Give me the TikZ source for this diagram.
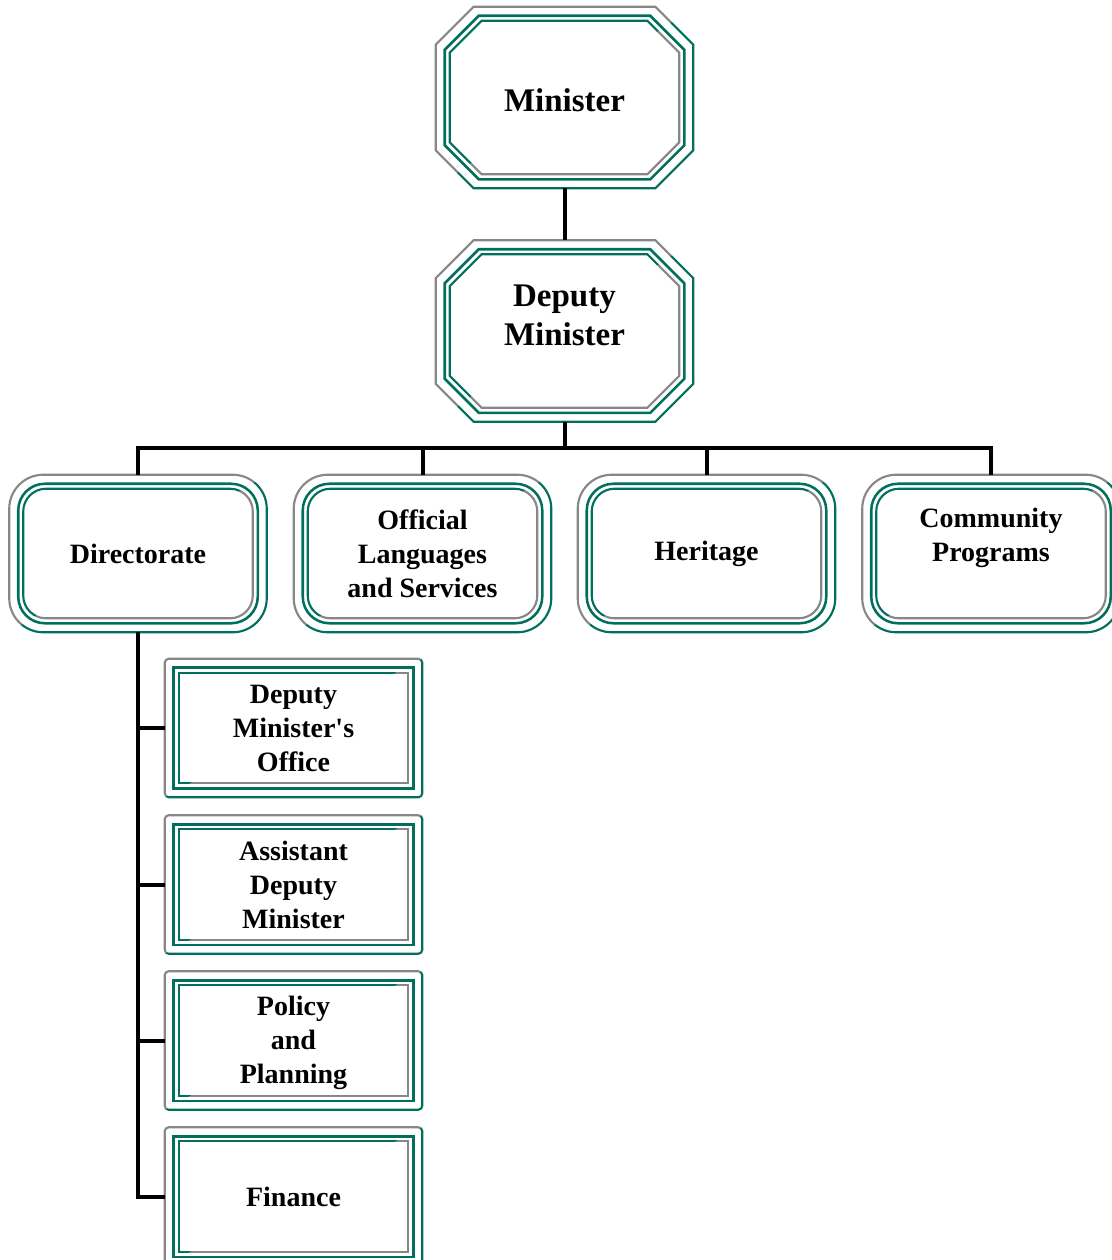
\documentclass[tikz,border=0pt]{standalone}
\usepackage{fontspec}
\setmainfont{Liberation Serif}
\usetikzlibrary{calc}
\definecolor{tealc}{RGB}{0,112,92}
\definecolor{grayc}{RGB}{135,135,135}
\tikzset{
  box/.style={inner sep=0pt, minimum width=257*0.75pt, align=center,
    font=\bfseries\fontsize{21}{25.5}\selectfont},
  bigbox/.style={box, minimum height=181*0.75pt},
  midbox/.style={box, minimum height=157*0.75pt},
  smallbox/.style={box, minimum height=138*0.75pt},
  bigtext/.style={inner sep=0pt, align=center, font=\bfseries\fontsize{24.75}{29.25}\selectfont},
  smalltext/.style={inner sep=0pt, align=center, font=\bfseries\fontsize{21}{25.5}\selectfont},
  link/.style={line width=3pt, black},
  outerline/.style={line width=1.6pt},
  midline/.style={line width=1.9pt, tealc},
  innerline/.style={line width=1.6pt},
}
% octagon ring: #1 node, #2 inset px, #3 chamfer px, #4 style
\newcommand\octring[4]{%
  \draw[#4] let \p1=(#1.north west), \p2=(#1.south east),
    \n1={#2*0.75pt}, \n2={#3*0.75pt} in
    ({\x1+\n1+\n2},{\y1-\n1}) -- ({\x2-\n1-\n2},{\y1-\n1}) --
    ({\x2-\n1},{\y1-\n1-\n2}) -- ({\x2-\n1},{\y2+\n1+\n2}) --
    ({\x2-\n1-\n2},{\y2+\n1}) -- ({\x1+\n1+\n2},{\y2+\n1}) --
    ({\x1+\n1},{\y2+\n1+\n2}) -- ({\x1+\n1},{\y1-\n1-\n2}) -- cycle;}
% rounded ring: #1 node, #2 inset px, #3 radius pt, #4 style
\newcommand\rndring[4]{%
  \draw[#4, rounded corners=#3] ([shift={(#2,#2)}]#1.north west)
    rectangle ([shift={(-#2,-#2)}]#1.south east);}
% #1 node, #2 ring macro, #3/#4 outer, #5/#6 middle, #7/#8 inner
\newcommand\bevelframe[8]{%
  \begin{scope}
    \clip ($(#1.south west)!-0.3!(#1.north east)$) --
      ($(#1.north east)!-0.3!(#1.south west)$) --
      ([shift={(-80,-80)}]#1.north west) -- cycle;
    #2{#1}{#3}{#4}{outerline, grayc}
    #2{#1}{#7}{#8}{innerline, tealc}
  \end{scope}
  \begin{scope}
    \clip ($(#1.south west)!-0.3!(#1.north east)$) --
      ($(#1.north east)!-0.3!(#1.south west)$) --
      ([shift={(80,80)}]#1.south east) -- cycle;
    #2{#1}{#3}{#4}{outerline, tealc}
    #2{#1}{#7}{#8}{innerline, grayc}
  \end{scope}
  #2{#1}{#5}{#6}{midline}}
\begin{document}
\begin{tikzpicture}[x=0.75pt, y=-0.75pt]
\useasboundingbox (0,0) rectangle (1112,1260);
\clip (0,0) rectangle (1112,1260);

% top boxes
\node[bigbox] (min) at (564.5,97.5) {};
\node[bigtext] (mint) at (564.5,100) {Minister};
\node[bigbox] (dm) at (564.5,331) {};
\node[bigtext] (dmt) at (564.5,315) {Deputy\\Minister};

% second row
\node[midbox] (dir) at (138,553.5) {Directorate};
\node[midbox] (ols) at (422.5,553.5) {Official\\Languages\\and Services};
\node[midbox] (her) at (706.5,553.5) {Heritage};
\node[midbox] (com) at (991,553.5) {};
\node[smalltext] (comt) at (991,538) {Community\\Programs};

% third column
\node[smallbox] (dmo) at (293.5,728) {Deputy\\Minister\textquotesingle s\\Office};
\node[smallbox] (adm) at (293.5,884.5) {Assistant\\Deputy\\Minister};
\node[smallbox] (pol) at (293.5,1040.5) {};
\node[smalltext] (polt) at (293.5,1043) {Policy\\and\\Planning};
\node[smallbox] (fin) at (293.5,1196.5) {Finance};

% frames
\bevelframe{min}{\octring}{0}{38}{9}{34}{14}{32}
\bevelframe{dm}{\octring}{0}{38}{9}{34}{14}{32}
\foreach \n in {dir,ols,her,com}{
  \bevelframe{\n}{\rndring}{0}{25.5pt}{9}{20pt}{14}{17pt}
}
\foreach \n in {dmo,adm,pol,fin}{
  \bevelframe{\n}{\rndring}{0}{3pt}{9}{0pt}{14}{0pt}
}

% connectors
\coordinate (bus) at (564.5,448);
\draw[link] (min.south) -- (dm.north);
\draw[link] (dm.south) -- (bus);
\draw[link] (bus) -| (dir.north);
\draw[link] (bus) -| (ols.north);
\draw[link] (bus) -| (her.north);
\draw[link] (bus) -| (com.north);
\draw[link] (dir.south) |- (dmo.west);
\draw[link] (dir.south) |- (adm.west);
\draw[link] (dir.south) |- (pol.west);
\draw[link] (dir.south) |- (fin.west);
\end{tikzpicture}
\end{document}
